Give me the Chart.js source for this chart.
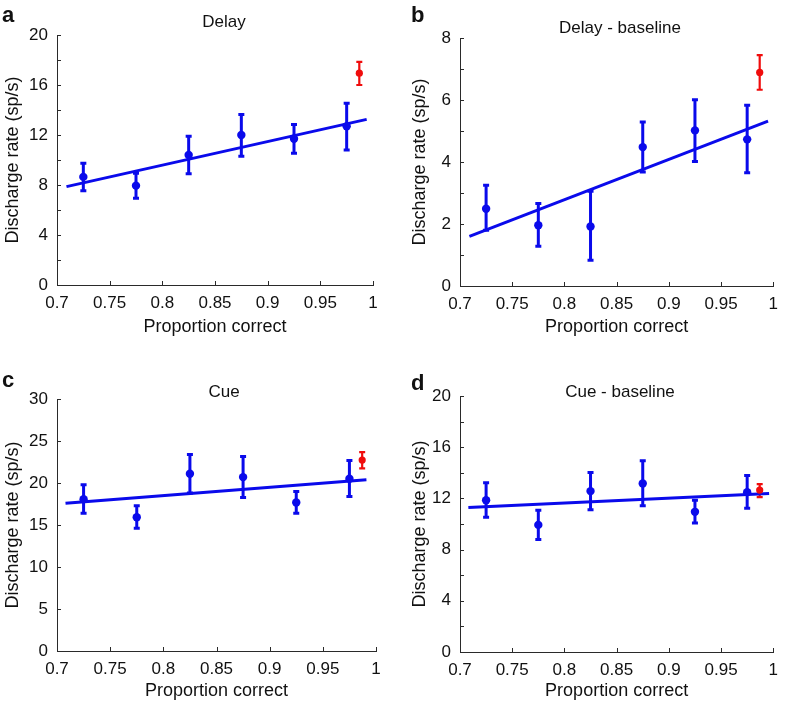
<!DOCTYPE html>
<html>
<head>
<meta charset="utf-8">
<script src="https://cdn.jsdelivr.net/npm/chart.js@4.4.0/dist/chart.umd.min.js"></script>
<style>
    body { margin: 0; background: #fff; }
    .panel { position: absolute; }
</style>
</head>
<body>
<div class="panel" style="left:0;top:0"><canvas id="chart-a" width="393" height="340"></canvas></div>
<div class="panel" style="left:393px;top:0"><canvas id="chart-b" width="393" height="340"></canvas></div>
<div class="panel" style="left:0;top:340px"><canvas id="chart-c" width="393" height="364"></canvas></div>
<div class="panel" style="left:393px;top:340px"><canvas id="chart-d" width="393" height="364"></canvas></div>
<script>
// Bin centres (proportion correct) and the best-performance point
const binCenters = [0.725, 0.775, 0.825, 0.875, 0.925, 0.975];
const bestX = [0.987];

// a - Delay
const delayRate = [8.65, 7.95, 10.4, 12.0, 11.7, 12.7];
const delayLow = [7.55, 6.95, 8.9, 10.3, 10.55, 10.8];
const delayHigh = [9.75, 8.95, 11.9, 13.65, 12.85, 14.55];
const delayBest = [16.95];
const delayBestLow = [16.0];
const delayBestHigh = [17.85];
const delayFitX = [0.709, 0.994];
const delayFitY = [7.87, 13.25];

// b - Delay - baseline
const delayBaseRate = [2.49, 1.96, 1.92, 4.48, 5.02, 4.73];
const delayBaseLow = [1.8, 1.28, 0.83, 3.68, 4.02, 3.65];
const delayBaseHigh = [3.25, 2.66, 3.06, 5.29, 6.01, 5.83];
const delayBaseBest = [6.89];
const delayBaseBestLow = [6.33];
const delayBaseBestHigh = [7.45];
const delayBaseFitX = [0.709, 0.995];
const delayBaseFitY = [1.6, 5.32];

// c - Cue
const cueRate = [18.08, 15.93, 21.1, 20.7, 17.68, 20.5];
const cueLow = [16.41, 14.62, 18.8, 18.27, 16.41, 18.4];
const cueHigh = [19.79, 17.28, 23.4, 23.16, 18.99, 22.68];
const cueBest = [22.73];
const cueBestLow = [21.73];
const cueBestHigh = [23.68];
const cueFitX = [0.708, 0.991];
const cueFitY = [17.6, 20.38];

// d - Cue - baseline
const cueBaseRate = [11.86, 9.93, 12.57, 13.17, 10.95, 12.49];
const cueBaseLow = [10.53, 8.79, 11.11, 11.42, 10.07, 11.24];
const cueBaseHigh = [13.22, 11.08, 14.03, 14.94, 11.86, 13.79];
const cueBaseBest = [12.65];
const cueBaseBestLow = [12.1];
const cueBaseBestHigh = [13.12];
const cueBaseFitX = [0.708, 0.996];
const cueBaseFitY = [11.29, 12.39];

const xTicks = { min: 0.7, max: 1, step: 0.05 };

const BLUE = 'rgb(10, 10, 235)';
const RED = 'rgb(240, 12, 12)';
const AXIS = '#2a2a2a';
const FONT = "'Liberation Sans', Arial, sans-serif";

// Vertical error bars with caps, positioned through the chart scales
const errorBars = {
    id: 'errorBars',
    beforeDatasetsDraw(chart) {
        const { ctx, scales: { x, y } } = chart;
        chart.data.datasets.forEach(ds => {
            if (!ds.errLow) return;
            ctx.save();
            ctx.strokeStyle = ds.backgroundColor;
            ctx.lineWidth = ds.errWidth;
            ds.data.forEach((pt, i) => {
                const px = x.getPixelForValue(pt.x);
                const top = y.getPixelForValue(ds.errHigh[i]);
                const bot = y.getPixelForValue(ds.errLow[i]);
                const cap = 3;
                ctx.beginPath();
                ctx.moveTo(px, top);
                ctx.lineTo(px, bot);
                ctx.moveTo(px - cap, top);
                ctx.lineTo(px + cap, top);
                ctx.moveTo(px - cap, bot);
                ctx.lineTo(px + cap, bot);
                ctx.stroke();
            });
            ctx.restore();
        });
    }
};

// Inward tick marks, panel title and panel letter
const panelDecor = {
    id: 'panelDecor',
    afterDraw(chart, args, opts) {
        const { ctx, chartArea, scales: { x, y } } = chart;
        ctx.save();
        ctx.strokeStyle = AXIS;
        ctx.lineWidth = 1;
        ctx.beginPath();
        x.ticks.forEach(t => {
            const px = Math.round(x.getPixelForValue(t.value)) + 0.5;
            ctx.moveTo(px, chartArea.bottom);
            ctx.lineTo(px, chartArea.bottom - 4);
        });
        y.ticks.forEach(t => {
            const py = Math.round(y.getPixelForValue(t.value)) + 0.5;
            ctx.moveTo(chartArea.left, py);
            ctx.lineTo(chartArea.left + 4, py);
        });
        ctx.stroke();

        ctx.fillStyle = '#111';
        ctx.textBaseline = 'middle';
        ctx.textAlign = 'center';
        ctx.font = `17px ${FONT}`;
        ctx.fillText(opts.title, opts.titleX, opts.titleY);
        ctx.textAlign = 'left';
        ctx.textBaseline = 'alphabetic';
        ctx.font = `bold 22px ${FONT}`;
        ctx.fillText(opts.letter, opts.letterX, opts.letterY);
        ctx.restore();
    }
};

function makePanel(id, p) {
    const toPts = (xs, ys) => xs.map((v, i) => ({ x: v, y: ys[i] }));
    new Chart(document.getElementById(id), {
        type: 'scatter',
        data: {
            datasets: [
                {
                    data: toPts(binCenters, p.rate),
                    errLow: p.low, errHigh: p.high, errWidth: 3,
                    backgroundColor: BLUE, borderWidth: 0, pointRadius: 4.2
                },
                {
                    data: toPts(bestX, p.best),
                    errLow: p.bestLow, errHigh: p.bestHigh, errWidth: 2.2,
                    backgroundColor: RED, borderWidth: 0, pointRadius: 3.6
                },
                {
                    data: toPts(p.fitX, p.fitY),
                    showLine: true, borderColor: BLUE, borderWidth: 3,
                    pointRadius: 0, fill: false
                }
            ]
        },
        options: {
            responsive: false,
            animation: false,
            events: [],
            layout: { padding: { left: p.padLeft, top: p.top, right: p.padRight, bottom: 0 } },
            plugins: {
                legend: { display: false },
                tooltip: { enabled: false },
                panelDecor: {
                    title: p.title, titleX: p.titleX, titleY: p.titleY,
                    letter: p.letter, letterX: p.letterX, letterY: p.letterY
                }
            },
            scales: {
                x: {
                    type: 'linear',
                    min: xTicks.min, max: xTicks.max,
                    grid: { display: false, drawTicks: false },
                    border: { color: AXIS, width: 1 },
                    ticks: {
                        stepSize: xTicks.step, padding: 8, color: '#111',
                        font: { family: FONT, size: 17 },
                        callback: v => String(Math.round(v * 100) / 100)
                    },
                    title: {
                        display: true, text: 'Proportion correct', color: '#111',
                        font: { family: FONT, size: 18 }, padding: { top: 0, bottom: 2 }
                    },
                    afterFit: s => { s.height = p.xHeight; }
                },
                y: {
                    type: 'linear',
                    min: 0, max: p.yMax,
                    grid: { display: false, drawTicks: false },
                    border: { color: AXIS, width: 1 },
                    ticks: {
                        stepSize: p.yStep, padding: 9, color: '#111',
                        font: { family: FONT, size: 17 },
                        callback: v => (v % p.yLabelEvery === 0 ? v : '')
                    },
                    title: {
                        display: true, text: 'Discharge rate (sp/s)', color: '#111',
                        font: { family: FONT, size: 18 }, padding: { top: 2, bottom: 0 }
                    },
                    afterFit: s => { s.width = p.yWidth; }
                }
            }
        },
        plugins: [errorBars, panelDecor]
    });
}

makePanel('chart-a', {
    rate: delayRate, low: delayLow, high: delayHigh,
    best: delayBest, bestLow: delayBestLow, bestHigh: delayBestHigh,
    fitX: delayFitX, fitY: delayFitY,
    yMax: 20, yStep: 2, yLabelEvery: 4,
    padLeft: 0, yWidth: 57, top: 35, padRight: 20, xHeight: 55,
    title: 'Delay', titleX: 224, titleY: 22, letter: 'a', letterX: 2, letterY: 22
});
makePanel('chart-b', {
    rate: delayBaseRate, low: delayBaseLow, high: delayBaseHigh,
    best: delayBaseBest, bestLow: delayBaseBestLow, bestHigh: delayBaseBestHigh,
    fitX: delayBaseFitX, fitY: delayBaseFitY,
    yMax: 8, yStep: 1, yLabelEvery: 2,
    padLeft: 14, yWidth: 53, top: 38, padRight: 11, xHeight: 54,
    title: 'Delay - baseline', titleX: 227, titleY: 28, letter: 'b', letterX: 18, letterY: 22
});
makePanel('chart-c', {
    rate: cueRate, low: cueLow, high: cueHigh,
    best: cueBest, bestLow: cueBestLow, bestHigh: cueBestHigh,
    fitX: cueFitX, fitY: cueFitY,
    yMax: 30, yStep: 5, yLabelEvery: 5,
    padLeft: 0, yWidth: 57, top: 59, padRight: 17, xHeight: 53,
    title: 'Cue', titleX: 224, titleY: 52, letter: 'c', letterX: 2, letterY: 47
});
makePanel('chart-d', {
    rate: cueBaseRate, low: cueBaseLow, high: cueBaseHigh,
    best: cueBaseBest, bestLow: cueBaseBestLow, bestHigh: cueBaseBestHigh,
    fitX: cueBaseFitX, fitY: cueBaseFitY,
    yMax: 20, yStep: 2, yLabelEvery: 4,
    padLeft: 14, yWidth: 53, top: 56, padRight: 5, xHeight: 52,
    title: 'Cue - baseline', titleX: 227, titleY: 52, letter: 'd', letterX: 18, letterY: 50
});
</script>
</body>
</html>
